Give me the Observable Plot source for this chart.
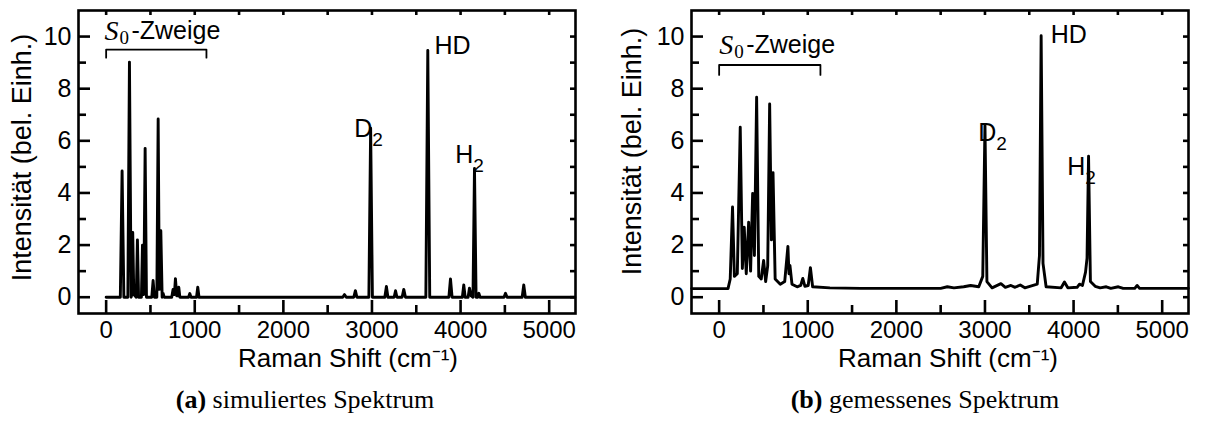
<!DOCTYPE html>
<html><head><meta charset="utf-8">
<script src="https://cdn.jsdelivr.net/npm/d3@7"></script>
<script src="https://cdn.jsdelivr.net/npm/@observablehq/plot@0.6"></script>
<style>
body{margin:0;background:#fff;}
#wrap{position:relative;width:1208px;height:432px;overflow:hidden;}
.panel{position:absolute;top:0;width:604px;}
.cap{position:absolute;top:385px;font-family:"Liberation Serif",serif;font-size:26px;white-space:nowrap;transform:translateX(-50%);color:#000;}
</style></head><body>
<div id="wrap">
 <div class="panel" id="pa" style="left:0"></div>
 <div class="panel" id="pb" style="left:604px"></div>
 <div class="cap" style="left:305px"><b>(a)</b> simuliertes Spektrum</div>
 <div class="cap" style="left:925px"><b>(b)</b> gemessenes Spektrum</div>
</div>
<script>
// ---- data ----
const xTicksMajor = [0, 1000, 2000, 3000, 4000, 5000];
const xTicksMinor = [500, 1500, 2500, 3500, 4500];
const yTicksMajor = [0, 2, 4, 6, 8, 10];
const yTicksMinor = [1, 3, 5, 7, 9];

// simulated spectrum (a): Raman shift (cm^-1) and intensity
const simShift = [
  0,160,180,200, 245,263,282, 290,300,312, 340,353,366, 398,410,425, 440,455,
  515,530,545, 572,587,600, 617,632, 643,655, 740,755,770, 782,797,808, 820,832,
  930,944,958, 1020,1034,1048, 2670,2690,2710, 2795,2813,2830, 2965,2985,3005,
  3145,3163,3180, 3250,3266,3282, 3340,3359,3378, 3608,3630,3652, 3868,3886,3904,
  4020,4036,4052, 4085,4100,4120, 4140,4157,4175, 4195,4206,4220, 4490,4507,4525,
  4695,4713,4731, 5290];
const simIntensity = [
  0,0,4.84,0, 0,9.02,0, 0.1,2.48,0.1, 0,2.2,0, 0,2.0,0.1, 5.71,0,
  0,0.64,0, 0,6.84,0.3, 2.55,0, 0.15,0, 0,0.3,0.1, 0.71,0.05,0.05, 0.38,0,
  0,0.14,0, 0,0.38,0, 0,0.1,0, 0,0.25,0, 0,6.48,0,
  0,0.41,0, 0,0.25,0, 0,0.3,0, 0,9.47,0, 0,0.7,0,
  0,0.47,0, 0,0.35,0.05, 0,4.94,0, 0,0.15,0, 0,0.15,0,
  0,0.47,0, 0];

// measured spectrum (b)
const measShift = [
  -310,100,125,151,172,205,238,262,283,306,333,355,378,398,423,447,475,502,525,548,
  570,590,608,632,690,740,776,788,799,822,880,920,944,968,1005,1030,1055,1250,1600,
  2500,2575,2650,2760,2838,2930,2975,3000,3022,3080,3180,3230,3293,3340,3398,3450,
  3590,3615,3634,3655,3690,3860,3897,3935,4040,4067,4100,4135,4152,4169,4190,4244,
  4300,4369,4420,4505,4560,4690,4717,4745,5295];
const measIntensity = [
  0.33,0.33,0.7,3.46,0.8,0.9,6.52,1.1,2.69,0.9,2.88,1.0,3.98,1.6,7.67,0.8,0.7,1.41,0.6,1.2,
  7.41,2.2,4.78,0.7,0.5,0.6,1.95,0.9,1.22,0.5,0.4,0.45,0.72,0.42,0.45,1.13,0.4,0.36,0.34,
  0.34,0.4,0.36,0.4,0.45,0.4,0.8,6.6,0.6,0.36,0.52,0.38,0.45,0.38,0.47,0.36,
  0.5,1.6,10.03,1.3,0.4,0.36,0.58,0.36,0.38,0.5,0.45,0.96,1.5,5.41,0.6,0.42,
  0.36,0.4,0.34,0.4,0.34,0.34,0.45,0.34,0.34];

// annotations
const peakLabelsA = [
  {name: "D", sub: "2", shift: 2800, intensity: 6.45},
  {name: "HD", sub: "", shift: 3705, intensity: 9.64},
  {name: "H", sub: "2", shift: 3940, intensity: 5.45}];
const peakLabelsB = [
  {name: "D", sub: "2", shift: 2925, intensity: 6.3},
  {name: "HD", sub: "", shift: 3742, intensity: 10.06},
  {name: "H", sub: "2", shift: 3930, intensity: 5.0}];
const branchA = {from: 0, to: 1132, level: 9.5, drop: 9.19, labelShift: -19, labelLevel: 10.23};
const branchB = {from: 0, to: 1143, level: 8.91, drop: 8.53, labelShift: 0, labelLevel: 9.68};

const xDomain = [-312, 5297];
const yDomain = [-0.625, 11.0];

const SANS = "Liberation Sans, Arial, sans-serif";
const NARROW = "Liberation Sans Narrow, Liberation Sans, sans-serif";
const SERIF = "Liberation Serif, serif";

function panel(el, xs, ys, labels, branch, o) {
  const W = 604, H = 372, mt = 10, mb = 59;
  const iw = W - o.ml - o.mr, ih = H - mt - mb;
  const sw = 2.6;
  const bracket = [[branch.from, branch.drop], [branch.from, branch.level], [branch.to, branch.level], [branch.to, branch.drop]];
  const chart = Plot.plot({
    width: W, height: H,
    marginLeft: o.ml, marginRight: o.mr, marginTop: mt, marginBottom: mb,
    x: {domain: xDomain},
    y: {domain: yDomain},
    style: {background: "white", color: "black", overflow: "visible"},
    marks: [
      // inward ticks
      Plot.ruleX(xTicksMajor, {x: d => d, insetTop: ih - 13, strokeWidth: sw}),
      Plot.ruleX(xTicksMinor, {x: d => d, insetTop: ih - 8, strokeWidth: sw}),
      Plot.ruleX(xTicksMajor.concat(xTicksMinor), {x: d => d, insetBottom: ih - 5, strokeWidth: sw}),
      Plot.ruleY(yTicksMajor, {y: d => d, insetRight: iw - 12, strokeWidth: sw}),
      Plot.ruleY(yTicksMinor, {y: d => d, insetRight: iw - 8, strokeWidth: sw}),
      Plot.ruleY(yTicksMajor.concat(yTicksMinor), {y: d => d, insetLeft: iw - 5, strokeWidth: sw}),
      Plot.axisX({ticks: xTicksMajor, tickSize: 0, tickPadding: 7, tickFormat: d => String(d), label: null, fontSize: 24, fontFamily: NARROW}),
      Plot.axisY({ticks: yTicksMajor, tickSize: 0, tickPadding: 7, tickFormat: d => String(d), label: null, fontSize: 25, fontFamily: NARROW}),
      // spectrum
      Plot.line(xs, {x: xs, y: ys, stroke: "black", strokeWidth: 2.9, strokeLinejoin: "round"}),
      // S0 branch bracket
      Plot.line(bracket, {x: d => d[0], y: d => d[1], stroke: "black", strokeWidth: 1.8}),
      Plot.text([branch], {x: "labelShift", y: "labelLevel", text: () => "S", textAnchor: "start", lineAnchor: "middle", fontSize: 28, fontStyle: "italic", fontFamily: SERIF}),
      Plot.text([branch], {x: "labelShift", y: "labelLevel", text: () => "0", textAnchor: "start", lineAnchor: "middle", dx: 15, dy: 7, fontSize: 19, fontFamily: SERIF}),
      Plot.text([branch], {x: "labelShift", y: "labelLevel", text: () => "-Zweige", textAnchor: "start", lineAnchor: "middle", dx: 27, fontSize: 25, fontFamily: SANS}),
      // peak labels
      Plot.text(labels, {x: "shift", y: "intensity", text: "name", textAnchor: "start", lineAnchor: "middle", fontSize: 25, fontFamily: SANS}),
      Plot.text(labels, {x: "shift", y: "intensity", text: "sub", textAnchor: "start", lineAnchor: "middle", dx: 18, dy: 11, fontSize: 19, fontFamily: SANS}),
      // axis titles
      Plot.text(["Raman Shift (cm⁻¹)"], {frameAnchor: "bottom", textAnchor: "middle", lineAnchor: "middle", dx: o.xdx, dy: 45, fontSize: 26, fontFamily: SANS}),
      Plot.text(["Intensität (bel. Einh.)"], {frameAnchor: "left", textAnchor: "middle", lineAnchor: "middle", rotate: -90, dx: o.ydx, dy: o.ydy, fontSize: 27, fontFamily: SANS}),
      Plot.frame({stroke: "black", strokeWidth: sw})
    ]
  });
  el.appendChild(chart);
}

panel(document.getElementById("pa"), simShift, simIntensity, peakLabelsA, branchA, {ml: 78, mr: 29, xdx: 21, ydx: -56, ydy: -4.5});
panel(document.getElementById("pb"), measShift, measIntensity, peakLabelsB, branchB, {ml: 87, mr: 20, xdx: 8, ydx: -59, ydy: -10.5});
</script>
</body></html>
